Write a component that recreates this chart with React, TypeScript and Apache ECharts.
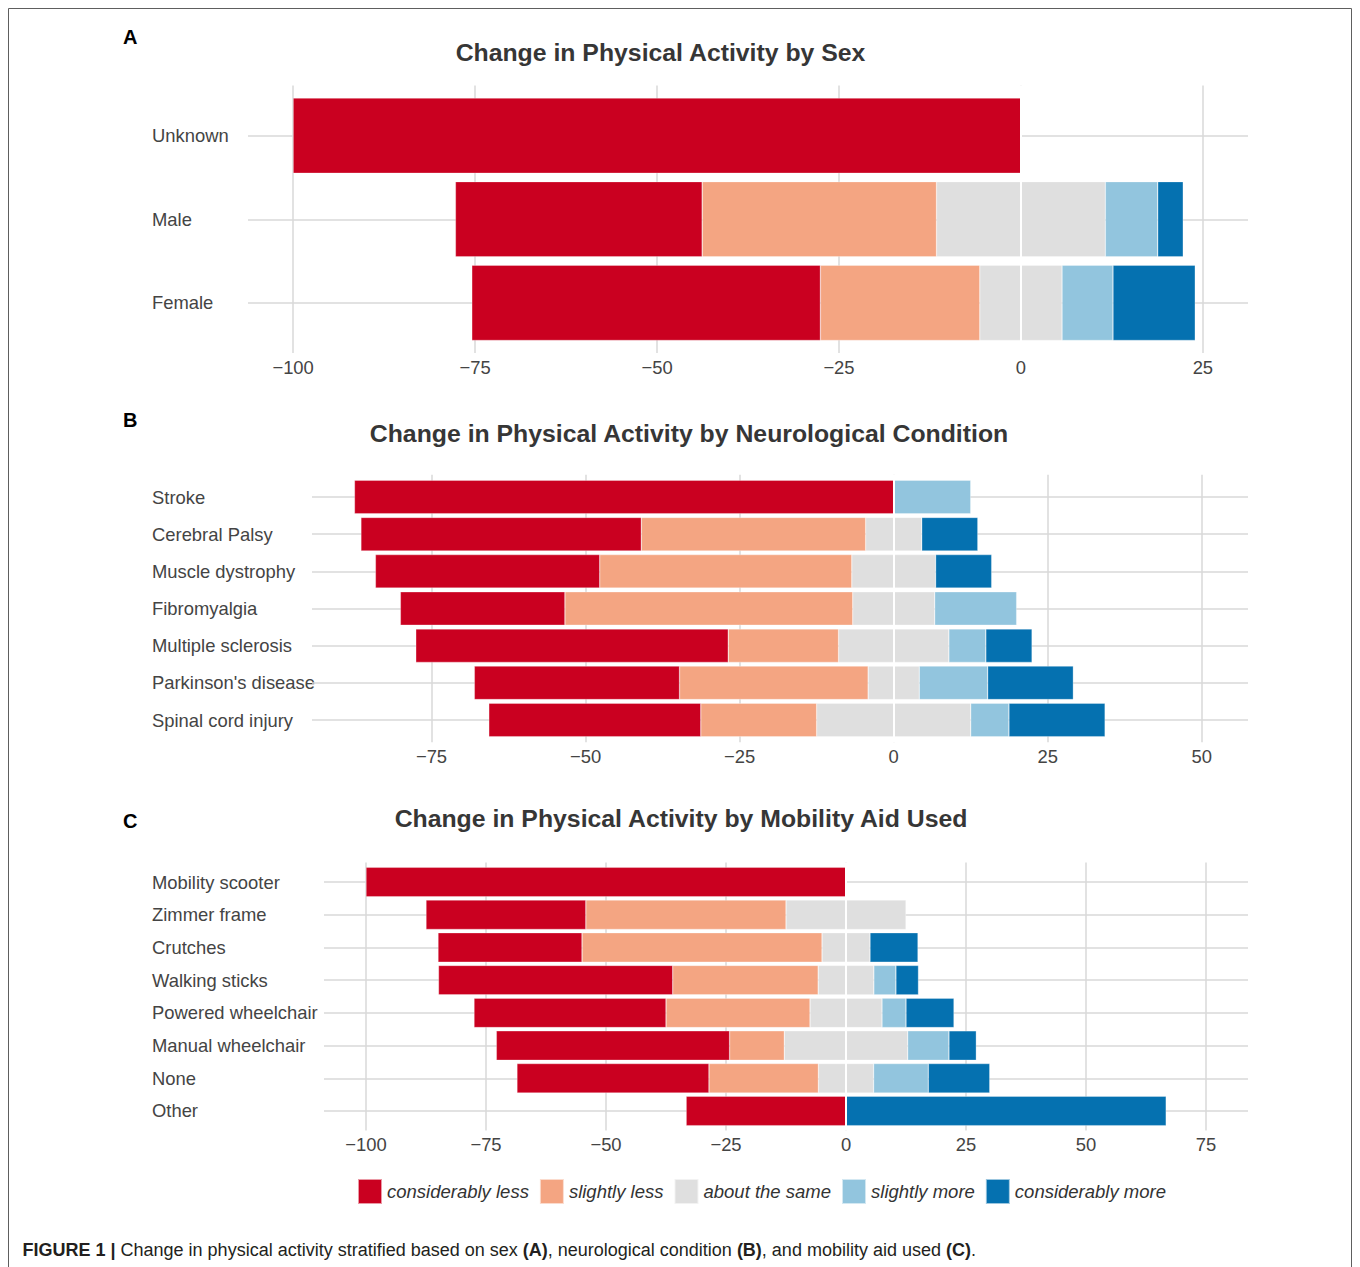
import { useEffect, useRef } from 'react';
import * as echarts from 'echarts';

// Response levels, from most negative to most positive
const LEVELS = ['considerably less', 'slightly less', 'about the same', 'slightly more', 'considerably more'];
const LEVEL_COLORS = ['#CA0020', '#F4A582', '#DFDFDF', '#92C5DE', '#0571B0'];

// Panel A: by sex (percent of respondents)
const sexCategories = ['Unknown', 'Male', 'Female'];
const sexConsiderablyLess = [100, 33.9, 47.9];
const sexSlightlyLess = [0, 32.2, 21.9];
const sexAboutSame = [0, 23.2, 11.3];
const sexSlightlyMore = [0, 7.2, 7.0];
const sexConsiderablyMore = [0, 3.5, 11.3];
const sexTicks = [-100, -75, -50, -25, 0, 25];

// Panel B: by neurological condition
const conditionCategories = [
  'Stroke',
  'Cerebral Palsy',
  'Muscle dystrophy',
  'Fibromyalgia',
  'Multiple sclerosis',
  "Parkinson's disease",
  'Spinal cord injury',
];
const conditionConsiderablyLess = [87.5, 45.5, 36.4, 26.7, 50.7, 33.3, 34.4];
const conditionSlightlyLess = [0, 36.4, 40.9, 46.7, 17.9, 30.6, 18.8];
const conditionAboutSame = [0, 9.1, 13.6, 13.3, 17.9, 8.3, 25.0];
const conditionSlightlyMore = [12.5, 0, 0, 13.3, 6.0, 11.1, 6.2];
const conditionConsiderablyMore = [0, 9.1, 9.1, 0, 7.5, 13.9, 15.6];
const conditionTicks = [-75, -50, -25, 0, 25, 50];

// Panel C: by mobility aid used
const aidCategories = [
  'Mobility scooter',
  'Zimmer frame',
  'Crutches',
  'Walking sticks',
  'Powered wheelchair',
  'Manual wheelchair',
  'None',
  'Other',
];
const aidConsiderablyLess = [100, 33.3, 30, 48.8, 40, 48.6, 40, 33.3];
const aidSlightlyLess = [0, 41.7, 50, 30.3, 30, 11.4, 22.8, 0];
const aidAboutSame = [0, 25, 10, 11.6, 15, 25.7, 11.5, 0];
const aidSlightlyMore = [0, 0, 0, 4.6, 5, 8.6, 11.4, 0];
const aidConsiderablyMore = [0, 0, 10, 4.7, 10, 5.7, 12.8, 66.7];
const aidTicks = [-100, -75, -50, -25, 0, 25, 50, 75];

const FONT = '"Liberation Sans", Arial, Helvetica, sans-serif';
const AXIS_TEXT = '#444444';
const TITLE_TEXT = '#363636';
const GRID_COLOR = '#D9D9D9';
const LABEL_X = 152;

type Panel = {
  letter: string;
  title: string;
  titleX: number;
  titleY: number;
  letterY: number;
  categories: string[];
  values: number[][];
  ticks: number[];
  extent: [number, number];
  plotLeft: number;
  plotRight: number;
  panelTop: number;
  panelBottom: number;
};

const PANELS: Panel[] = [
  {
    letter: 'A',
    title: 'Change in Physical Activity by Sex',
    titleX: 660.5,
    titleY: 52,
    letterY: 37,
    categories: sexCategories,
    values: [sexConsiderablyLess, sexSlightlyLess, sexAboutSame, sexSlightlyMore, sexConsiderablyMore],
    ticks: sexTicks,
    extent: [-106.2, 31.2],
    plotLeft: 248,
    plotRight: 1248,
    panelTop: 85.5,
    panelBottom: 353,
  },
  {
    letter: 'B',
    title: 'Change in Physical Activity by Neurological Condition',
    titleX: 689,
    titleY: 433,
    letterY: 420,
    categories: conditionCategories,
    values: [
      conditionConsiderablyLess,
      conditionSlightlyLess,
      conditionAboutSame,
      conditionSlightlyMore,
      conditionConsiderablyMore,
    ],
    ticks: conditionTicks,
    extent: [-94.39, 57.49],
    plotLeft: 312,
    plotRight: 1248,
    panelTop: 474.7,
    panelBottom: 742.3,
  },
  {
    letter: 'C',
    title: 'Change in Physical Activity by Mobility Aid Used',
    titleX: 681,
    titleY: 818,
    letterY: 821,
    categories: aidCategories,
    values: [aidConsiderablyLess, aidSlightlyLess, aidAboutSame, aidSlightlyMore, aidConsiderablyMore],
    ticks: aidTicks,
    extent: [-108.75, 83.75],
    plotLeft: 324,
    plotRight: 1248,
    panelTop: 862.4,
    panelBottom: 1130.6,
  },
];

const formatTick = (v: number) => (v < 0 ? '\u2212' + Math.abs(v) : String(v));

function buildOption() {
  const grid: any[] = [];
  const xAxis: any[] = [];
  const yAxis: any[] = [];
  const series: any[] = [];
  const graphic: any[] = [];

  PANELS.forEach((p, i) => {
    const n = p.categories.length;
    // discrete axis padded by 0.6 of a category on each side
    const step = (p.panelBottom - p.panelTop) / (n + 0.2);
    const barTop = p.panelTop + 0.1 * step;
    const ppu = (p.plotRight - p.plotLeft) / (p.extent[1] - p.extent[0]);
    const t0 = p.ticks[0];
    const t1 = p.ticks[p.ticks.length - 1];
    const tickLeft = p.plotLeft + (t0 - p.extent[0]) * ppu;
    const tickRight = p.plotLeft + (t1 - p.extent[0]) * ppu;
    const bi = 2 * i;
    const gi = 2 * i + 1;

    // grid for the bars (category rows)
    grid.push({ left: p.plotLeft, top: barTop, width: p.plotRight - p.plotLeft, height: n * step });
    // grid for the vertical grid lines and tick labels
    grid.push({ left: tickLeft, top: p.panelTop, width: tickRight - tickLeft, height: p.panelBottom - p.panelTop });

    xAxis.push({ gridIndex: bi, type: 'value', min: p.extent[0], max: p.extent[1], show: false });
    yAxis.push({
      gridIndex: bi,
      type: 'category',
      inverse: true,
      data: p.categories,
      axisLine: { show: false },
      axisTick: { show: false },
      splitLine: { show: false },
      axisLabel: {
        align: 'left',
        margin: p.plotLeft - LABEL_X,
        fontSize: 18.4,
        color: AXIS_TEXT,
        fontFamily: FONT,
      },
    });

    xAxis.push({
      gridIndex: gi,
      type: 'value',
      min: t0,
      max: t1,
      interval: p.ticks[1] - p.ticks[0],
      axisLine: { show: false },
      axisTick: { show: false },
      splitLine: { show: true, lineStyle: { color: GRID_COLOR, width: 1.5 } },
      axisLabel: { margin: 5, fontSize: 18.4, color: AXIS_TEXT, fontFamily: FONT, formatter: formatTick },
    });
    yAxis.push({ gridIndex: gi, type: 'value', min: 0, max: 1, show: false });

    // horizontal grid lines through each category
    series.push({
      type: 'line',
      xAxisIndex: bi,
      yAxisIndex: bi,
      data: [],
      z: 1,
      silent: true,
      markLine: {
        silent: true,
        symbol: 'none',
        z: 1,
        label: { show: false },
        lineStyle: { color: GRID_COLOR, width: 1.5, type: 'solid' },
        data: p.categories.map((c) => ({ yAxis: c })),
      },
    });

    const [cl, sl, same, sm, cm] = p.values;
    const half = same.map((v) => v / 2);
    const neg = (arr: number[]) => arr.map((v) => (v > 0 ? -v : null));
    const pos = (arr: number[]) => arr.map((v) => (v > 0 ? v : null));
    const parts: [number, (number | null)[]][] = [
      [2, neg(half)],
      [1, neg(sl)],
      [0, neg(cl)],
      [2, pos(half)],
      [3, pos(sm)],
      [4, pos(cm)],
    ];
    parts.forEach(([lvl, data]) => {
      series.push({
        type: 'bar',
        name: LEVELS[lvl],
        stack: 'panel' + i,
        xAxisIndex: bi,
        yAxisIndex: bi,
        barCategoryGap: '10%',
        z: 2,
        silent: true,
        itemStyle: { color: LEVEL_COLORS[lvl], borderColor: 'rgba(255,255,255,0.6)', borderWidth: 0.5 },
        data,
      });
    });

    // white reference line at zero, drawn over the bars
    series.push({
      type: 'line',
      xAxisIndex: gi,
      yAxisIndex: gi,
      data: [],
      z: 10,
      silent: true,
      markLine: {
        silent: true,
        symbol: 'none',
        z: 10,
        label: { show: false },
        lineStyle: { color: '#FFFFFF', width: 2, type: 'solid' },
        data: [{ xAxis: 0 }],
      },
    });

    graphic.push({
      type: 'text',
      x: 123,
      y: p.letterY,
      style: {
        text: p.letter,
        fontSize: 20,
        fontWeight: 'bold',
        fontFamily: FONT,
        fill: '#000000',
        align: 'left',
        verticalAlign: 'middle',
        textAlign: 'left',
        textVerticalAlign: 'middle',
      },
    });
    graphic.push({
      type: 'text',
      x: p.titleX,
      y: p.titleY,
      style: {
        text: p.title,
        fontSize: 24.8,
        fontWeight: 'bold',
        fontFamily: FONT,
        fill: TITLE_TEXT,
        align: 'center',
        verticalAlign: 'middle',
        textAlign: 'center',
        textVerticalAlign: 'middle',
      },
    });
  });

  graphic.push({
    type: 'rect',
    shape: { x: 8.5, y: 8.5, width: 1343, height: 1280 },
    style: { fill: 'none', stroke: '#5E5E5E', lineWidth: 1 },
    silent: true,
  });
  graphic.push({
    type: 'text',
    x: 22.5,
    y: 1250,
    style: {
      text: '{b|FIGURE 1 |} Change in physical activity stratified based on sex {b|(A)}, neurological condition {b|(B)}, and mobility aid used {b|(C)}.',
      fontSize: 18,
      fontFamily: FONT,
      fill: '#231F20',
      align: 'left',
      verticalAlign: 'middle',
      textAlign: 'left',
      textVerticalAlign: 'middle',
      rich: {
        b: { fontWeight: 'bold', fontSize: 18, fontFamily: FONT, fill: '#231F20' },
      },
    },
  });

  return {
    animation: false,
    backgroundColor: '#FFFFFF',
    textStyle: { fontFamily: FONT },
    grid,
    xAxis,
    yAxis,
    legend: {
      data: LEVELS,
      left: 352,
      top: 1173,
      itemWidth: 24,
      itemHeight: 25,
      itemGap: 10,
      icon: 'rect',
      selectedMode: false,
      textStyle: { fontStyle: 'italic', fontSize: 18.5, color: '#333333', fontFamily: FONT },
    },
    series,
    graphic,
  };
}

export default function App() {
  const ref = useRef<HTMLDivElement>(null);

  useEffect(() => {
    if (!ref.current) return;
    const chart = echarts.init(ref.current, null, { renderer: 'svg' });
    chart.setOption(buildOption());
    return () => chart.dispose();
  }, []);

  return (
    <div
      ref={ref}
      style={{ position: 'absolute', left: 0, top: 0, width: 1360, height: 1267, background: '#FFFFFF' }}
    />
  );
}
